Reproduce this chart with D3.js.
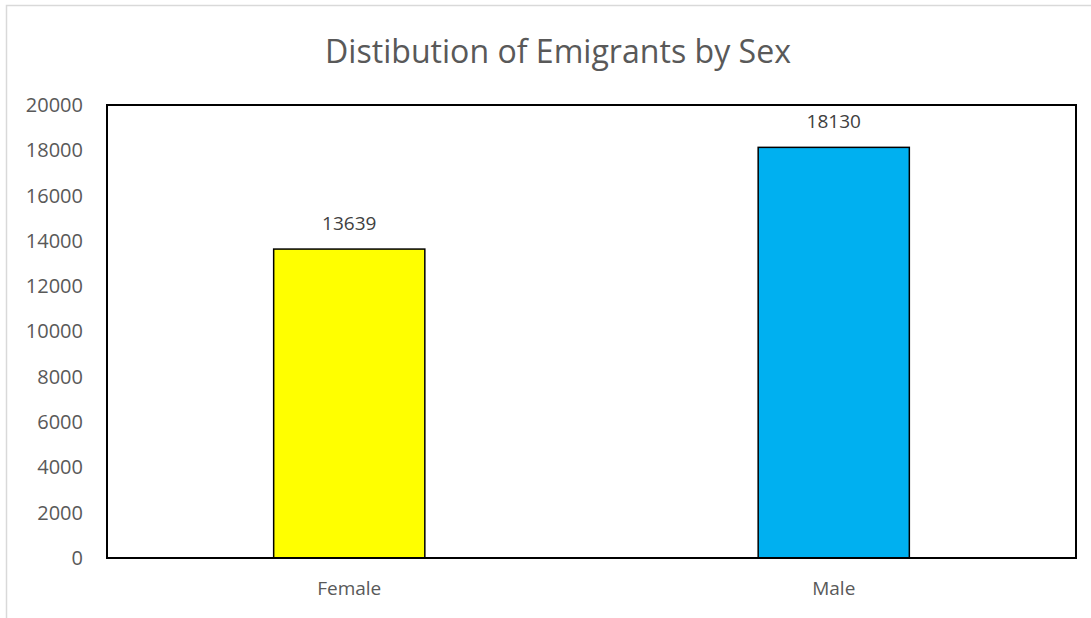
<!DOCTYPE html>
<html><head><meta charset="utf-8">
<script src="https://cdn.jsdelivr.net/npm/d3@7"></script>
<style>body{margin:0;background:#fff}svg{display:block}</style>
</head><body>
<svg id="c" width="1091" height="618"></svg>
<script>
const categories = ["Female", "Male"];
const values = [13639, 18130];
const colors = ["#FFFF00", "#00B0F0"];
const yTicks = [0, 2000, 4000, 6000, 8000, 10000, 12000, 14000, 16000, 18000, 20000];
const title = "Distibution of Emigrants by Sex";

const svg = d3.select("#c");
const font = "'Open Sans', 'Liberation Sans', sans-serif";
const grey = "#595959";

// outer chart border
svg.append("rect").attr("x", 6.5).attr("y", 5.5).attr("width", 1200).attr("height", 700)
  .attr("fill", "#fff").attr("stroke", "#d9d9d9").attr("stroke-width", 1.5);

const m = {left: 107, top: 105, right: 1076, bottom: 558};
const x = d3.scaleBand().domain(categories).range([m.left, m.right]).paddingInner(0.688).paddingOuter(0.344);
const y = d3.scaleLinear().domain([0, 20000]).range([m.bottom, m.top]);

// title
const t = svg.append("text").attr("x", 558).attr("y", 63).attr("text-anchor", "middle")
  .attr("font-family", font).attr("font-size", 30).attr("fill", grey).text(title);
const tw = t.node().getComputedTextLength();
t.attr("font-size", 30 * 466 / tw);

// bars
svg.selectAll("rect.bar").data(values).join("rect").attr("class", "bar")
  .attr("x", (d, i) => x(categories[i]))
  .attr("width", x.bandwidth())
  .attr("y", d => y(d))
  .attr("height", d => y(0) - y(d))
  .attr("fill", (d, i) => colors[i])
  .attr("stroke", "#000").attr("stroke-width", 1.5);

// plot frame
svg.append("rect").attr("x", m.left).attr("y", m.top).attr("width", m.right - m.left).attr("height", m.bottom - m.top)
  .attr("fill", "none").attr("stroke", "#000").attr("stroke-width", 2);

// y axis
const ya = svg.append("g").attr("transform", `translate(${m.left},0)`)
  .call(d3.axisLeft(y).tickValues(yTicks).tickSize(0).tickPadding(24).tickFormat(d3.format("d")));
ya.select(".domain").remove();
ya.selectAll("text").attr("font-family", font).attr("font-size", 20).attr("fill", grey);

// x axis
const xa = svg.append("g").attr("transform", `translate(0,${m.bottom})`)
  .call(d3.axisBottom(x).tickSize(0).tickPadding(24));
xa.select(".domain").remove();
xa.selectAll("text").attr("font-family", font).attr("font-size", 19).attr("fill", grey);

// data labels
svg.selectAll("text.lbl").data(values).join("text").attr("class", "lbl")
  .attr("x", (d, i) => x(categories[i]) + x.bandwidth() / 2)
  .attr("y", d => y(d) - 19)
  .attr("text-anchor", "middle")
  .attr("font-family", font).attr("font-size", 19).attr("fill", "#404040")
  .text(d => d);
</script>
</body></html>
